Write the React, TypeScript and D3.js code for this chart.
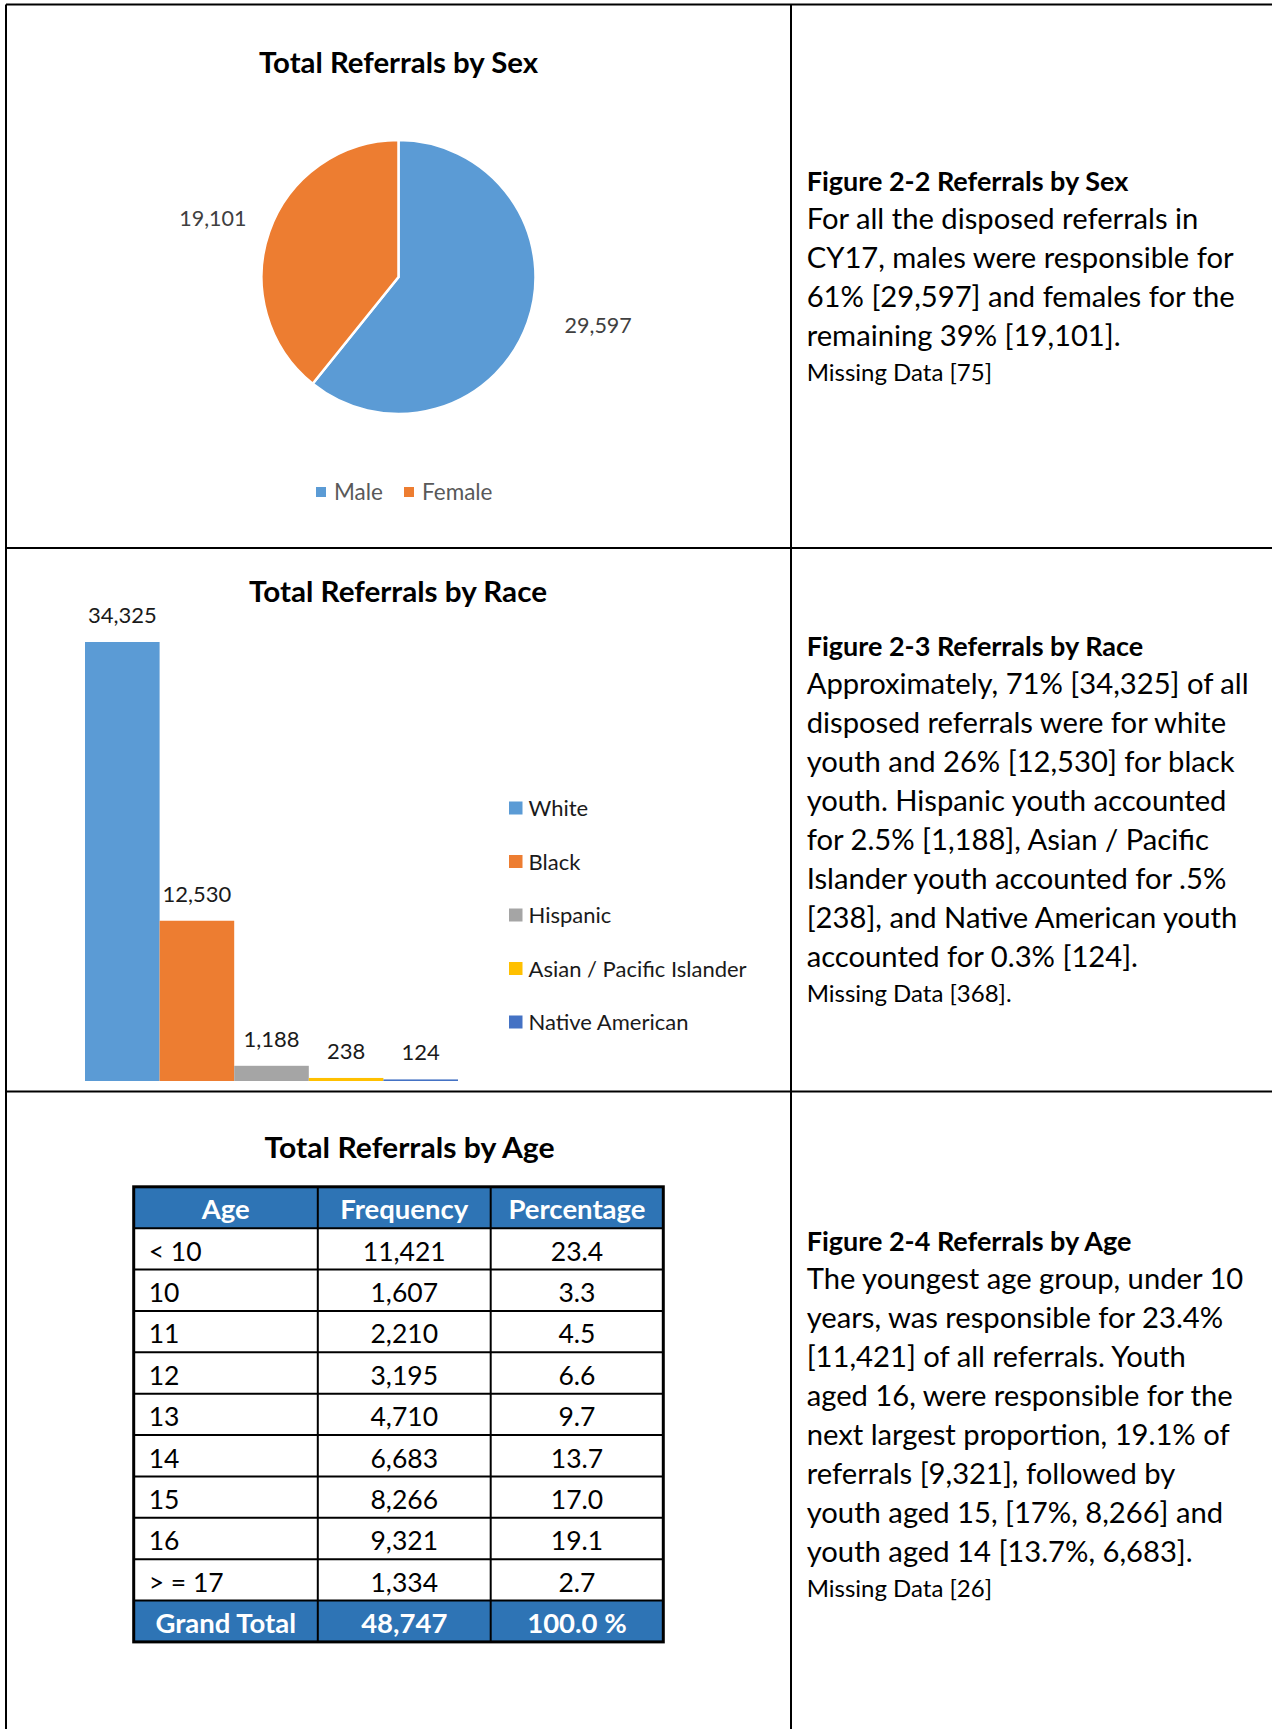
import React from "react";
import * as d3 from "d3";

// ---------- DATA ----------
const sexCategories = ["Male", "Female"];
const sexValues = [29597, 19101];
const sexColors = ["#5B9BD5", "#ED7D31"];

const raceCategories = ["White", "Black", "Hispanic", "Asian / Pacific Islander", "Native American"];
const raceValues = [34325, 12530, 1188, 238, 124];
const raceColors = ["#5B9BD5", "#ED7D31", "#A5A5A5", "#FFC000", "#4472C4"];

const ageHeaders = ["Age", "Frequency", "Percentage"];
const ageLabels = ["< 10", "10", "11", "12", "13", "14", "15", "16", "> = 17"];
const ageFrequency = [11421, 1607, 2210, 3195, 4710, 6683, 8266, 9321, 1334];
const agePercent = ["23.4", "3.3", "4.5", "6.6", "9.7", "13.7", "17.0", "19.1", "2.7"];
const ageTotal = ["Grand Total", "48,747", "100.0 %"];

const sexHeading = "Figure 2-2 Referrals by Sex";
const sexText = [
  "For all the disposed referrals in",
  "CY17, males were responsible for",
  "61% [29,597] and females for the",
  "remaining 39% [19,101].",
];
const sexMissing = "Missing Data [75]";

const raceHeading = "Figure 2-3 Referrals by Race";
const raceText = [
  "Approximately, 71% [34,325] of all",
  "disposed referrals were for white",
  "youth and 26% [12,530] for black",
  "youth. Hispanic youth accounted",
  "for 2.5% [1,188], Asian / Pacific",
  "Islander youth accounted for .5%",
  "[238], and Native American youth",
  "accounted for 0.3% [124].",
];
const raceMissing = "Missing Data [368].";

const ageHeading = "Figure 2-4 Referrals by Age";
const ageText = [
  "The youngest age group, under 10",
  "years, was responsible for 23.4%",
  "[11,421] of all referrals. Youth",
  "aged 16, were responsible for the",
  "next largest proportion, 19.1% of",
  "referrals [9,321], followed by",
  "youth aged 15, [17%, 8,266] and",
  "youth aged 14 [13.7%, 6,683].",
];
const ageMissing = "Missing Data [26]";

// ---------- STYLE ----------
const FONT = "Lato, 'Noto Sans', sans-serif";
const W = 1272;
const H = 1729;
const fmt = d3.format(",");
const TAB = { fontVariantNumeric: "tabular-nums" } as React.CSSProperties;

function Paragraph({ x, y0, heading, lines, missing }) {
  const first = 38, pitch = 39, last = 35;
  const yLast = y0 + first + pitch * (lines.length - 1);
  return (
    <g fontFamily={FONT} fill="#000" style={TAB}>
      <text x={x} y={y0} fontSize={27} fontWeight="bold">{heading}</text>
      {lines.map((l, i) => (
        <text key={i} x={x} y={y0 + first + pitch * i} fontSize={29.2}>{l}</text>
      ))}
      <text x={x} y={yLast + last} fontSize={24}>{missing}</text>
    </g>
  );
}

function SexChart() {
  const cx = 398.5, cy = 277, r = 137;
  const pie = d3.pie<number>().sort(null).value((d) => d);
  const arcs = pie(sexValues);
  const arc = d3.arc<any>().innerRadius(0).outerRadius(r);
  return (
    <g>
      <text x={cx} y={72.5} textAnchor="middle" fontFamily={FONT} fontWeight="bold" fontSize={29} textLength={279} lengthAdjust="spacingAndGlyphs">Total Referrals by Sex</text>
      <g transform={`translate(${cx},${cy})`}>
        {arcs.map((a, i) => (
          <path key={i} d={arc(a) || ""} fill={sexColors[i]} stroke="#fff" strokeWidth={2.5} />
        ))}
        {arcs.map((a, i) => {
          // outside-end label: mid angle flattened toward the horizontal
          const mid = (a.startAngle + a.endAngle) / 2; // clockwise from 12 o'clock
          const fromX = mid - Math.PI / 2;
          const side = Math.cos(fromX) >= 0 ? 0 : Math.PI;
          const ang = side + (fromX - side) * 0.8;
          const R = 200;
          const lx = Math.cos(ang) * R + 7;
          const ly = Math.sin(ang) * R - 5;
          return (
            <text key={"l" + i} x={lx} y={ly + 7.5} textAnchor="middle" fontFamily={FONT} fontSize={21.5} fill="#404040" style={TAB}>{fmt(sexValues[i])}</text>
          );
        })}
      </g>
      {(() => {
        const lx = d3.scalePoint().domain(sexCategories).range([316, 404]);
        return sexCategories.map((c, i) => (
          <g key={c}>
            <rect x={lx(c)} y={487} width={10} height={10} fill={sexColors[i]} />
            <text x={(lx(c) || 0) + 18} y={500} fontFamily={FONT} fontSize={22.5} fill="#595959">{c}</text>
          </g>
        ));
      })()}
    </g>
  );
}

function RaceChart() {
  const x = d3.scaleBand().domain(raceCategories).range([85, 458]).padding(0);
  const y = d3.scaleLinear().domain([0, 34325]).range([1081, 642]);
  const ly = d3.scalePoint().domain(raceCategories).range([808, 1022]);
  return (
    <g>
      <text x={398} y={601.5} textAnchor="middle" fontFamily={FONT} fontWeight="bold" fontSize={29} textLength={298} lengthAdjust="spacingAndGlyphs">Total Referrals by Race</text>
      {raceCategories.map((c, i) => (
        <rect key={c} x={x(c)} y={y(raceValues[i])} width={x.bandwidth()} height={y(0) - y(raceValues[i])} fill={raceColors[i]} />
      ))}
      {raceCategories.map((c, i) => (
        <text key={"t" + c} x={(x(c) || 0) + x.bandwidth() / 2} y={y(raceValues[i]) - 19} textAnchor="middle" fontFamily={FONT} fontSize={22} fill="#1a1a1a" style={TAB}>{fmt(raceValues[i])}</text>
      ))}
      {raceCategories.map((c, i) => (
        <g key={"lg" + c}>
          <rect x={509} y={(ly(c) || 0) - 6.5} width={13.5} height={13} fill={raceColors[i]} />
          <text x={528.5} y={(ly(c) || 0) + 8} fontFamily={FONT} fontSize={22} fill="#1a1a1a">{c}</text>
        </g>
      ))}
    </g>
  );
}

function AgeTable() {
  const cols = [133.7, 317.8, 490.7, 663.3];
  const rowsCount = ageLabels.length + 2;
  const y = d3.scaleLinear().domain([0, rowsCount]).range([1186.8, 1641.9]);
  const rows = [
    ageHeaders,
    ...ageLabels.map((l, i) => [l, fmt(ageFrequency[i]), agePercent[i]]),
    ageTotal,
  ];
  const blue = "#2E74B5";
  return (
    <g fontFamily={FONT} style={TAB}>
      <text x={409.6} y={1158} textAnchor="middle" fontWeight="bold" fontSize={29} textLength={290} lengthAdjust="spacingAndGlyphs">Total Referrals by Age</text>
      <rect x={cols[0]} y={y(0)} width={cols[3] - cols[0]} height={y(1) - y(0)} fill={blue} />
      <rect x={cols[0]} y={y(rowsCount - 1)} width={cols[3] - cols[0]} height={y(rowsCount) - y(rowsCount - 1)} fill={blue} />
      {rows.map((row, ri) => {
        const special = ri === 0 || ri === rowsCount - 1;
        return row.map((cell, ci) => {
          const left = ci === 0 && !special;
          const cxm = (cols[ci] + cols[ci + 1]) / 2;
          return (
            <text key={ri + "-" + ci} x={left ? cols[0] + 15 : cxm} y={y(ri) + 32.5} textAnchor={left ? "start" : "middle"} fontSize={special ? 27.5 : 26.5} fontWeight={special ? "bold" : "normal"} fill={special ? "#fff" : "#000"}>{cell}</text>
          );
        });
      })}
      {d3.range(1, rowsCount).map((i) => (
        <line key={"h" + i} x1={cols[0]} x2={cols[3]} y1={y(i)} y2={y(i)} stroke="#000" strokeWidth={2} />
      ))}
      {[1, 2].map((i) => (
        <line key={"v" + i} x1={cols[i]} x2={cols[i]} y1={y(0)} y2={y(rowsCount)} stroke="#000" strokeWidth={2} />
      ))}
      <rect x={cols[0]} y={y(0)} width={cols[3] - cols[0]} height={y(rowsCount) - y(0)} fill="none" stroke="#000" strokeWidth={3} />
    </g>
  );
}

export default function App() {
  return (
    <svg width={W} height={H} style={{ position: "absolute", left: 0, top: 0, background: "#fff" }}>
      <rect x={0} y={0} width={W} height={H} fill="#fff" />
      <g stroke="#000" strokeWidth={2}>
        <line x1={6} x2={W + 5} y1={4.5} y2={4.5} />
        <line x1={6} x2={6} y1={4.5} y2={H + 5} />
        <line x1={791} x2={791} y1={4.5} y2={H + 5} />
        <line x1={6} x2={W + 5} y1={548} y2={548} />
        <line x1={6} x2={W + 5} y1={1091.5} y2={1091.5} />
      </g>
      <SexChart />
      <RaceChart />
      <AgeTable />
      <Paragraph x={806.7} y0={191} heading={sexHeading} lines={sexText} missing={sexMissing} />
      <Paragraph x={806.7} y0={656.3} heading={raceHeading} lines={raceText} missing={raceMissing} />
      <Paragraph x={806.7} y0={1250.5} heading={ageHeading} lines={ageText} missing={ageMissing} />
    </svg>
  );
}
